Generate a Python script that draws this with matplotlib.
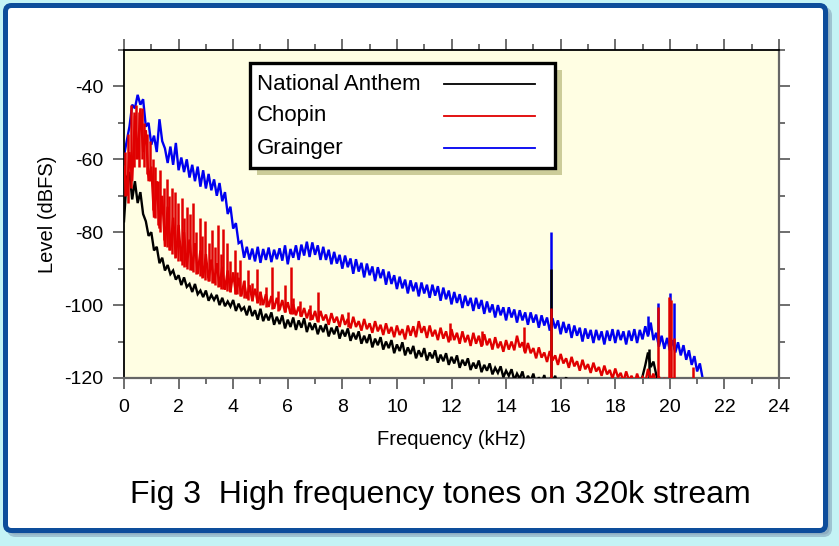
import numpy as np
import matplotlib
matplotlib.use("Agg")
import matplotlib.pyplot as plt
from matplotlib.patches import FancyBboxPatch, Rectangle
from matplotlib.ticker import MultipleLocator

plt.rcParams['font.family'] = ['Liberation Sans', 'DejaVu Sans']
plt.rcParams['axes.unicode_minus'] = False

# spectrum bins are 0.1 kHz apart, starting at 0 kHz
bin_khz = 0.1

anthem_db = [
    -77, -65, -63.5, -71, -66, -72, -69, -75, -77, -81,
    -80, -85, -84, -88.5, -87, -90.5, -89, -91.5, -90.5, -93,
    -91.8, -94.5, -92.4, -95, -94.2, -96.4, -94.2, -97, -96, -97.8,
    -96, -98.8, -97.2, -98.6, -97.2, -100, -98, -100.3, -99, -100.4,
    -98.6, -101.6, -99.6, -101.4, -100.6, -102.8, -100.2, -103, -101.4, -104,
    -101, -104.4, -102.4, -104.2, -102, -105.4, -103.2, -105.2, -102.8, -106.4,
    -104, -106, -103.4, -106.8, -104.2, -106.2, -103.6, -107.4, -104.8, -106.8,
    -105, -108, -105.6, -107.4, -105.2, -108.6, -106.2, -108, -105.8, -109.2,
    -106.8, -108.6, -106.4, -109.8, -107.6, -109.4, -107.2, -110.6, -108.4, -110.4,
    -108, -111.6, -109.2, -111, -108.8, -112.2, -110, -111.8, -109.6, -113.2,
    -110.8, -112.6, -110.2, -113.8, -111.6, -113.4, -111.2, -114.6, -112.4, -114.2,
    -111.8, -115.2, -113, -114.6, -112.4, -115.8, -113.6, -115.4, -113.2, -116.4,
    -114.2, -116, -113.8, -117.2, -115, -116.6, -114.6, -117.8, -115.8, -117.4,
    -115.2, -118.4, -116.4, -118, -116, -119, -117.2, -118.6, -116.8, -119.8,
    -118, -119.4, -117.6, -120.6, -118.8, -120.2, -118.2, -121.4, -119.4, -120.8,
    -118.8, -122, -119.8, -121.4, -119.2, -122.4, -120.4, -121, -119.4, -122.6,
    -120.4, -122, -119.8, -123, -120.8, -122.4, -120.2, -123.4, -121.2, -122.6,
    -120.6, -123.6, -121.6, -122.8, -120.4, -123.8, -121.8, -123, -120.8, -123.8,
    -121.8, -123.2, -121.2, -124, -120.6, -123.8, -121.2, -123.6, -120.4, -122,
    -119.5, -116.5, -113, -117, -115.5, -119, -122,
]

chopin_db = [
    -62, -70, -58, -66, -48, -60, -46, -58, -52, -66,
    -62, -76, -66, -79, -70, -84, -73, -85, -76, -87,
    -78, -88, -80, -89.5, -82, -90.5, -83, -91.5, -85, -92.5,
    -86, -93.5, -87.5, -94, -88.5, -95, -89.5, -95.8, -90.5, -96.4,
    -91, -97, -92.5, -97.6, -93.5, -98.2, -94.5, -98.8, -95.5, -99.4,
    -96.5, -100, -97, -100.5, -97.5, -101, -98, -101.4, -98.6, -102,
    -99.2, -102.4, -99.8, -102.8, -100.4, -103.2, -100.8, -103.6, -101.2, -104,
    -101.6, -104.6, -101.6, -104.2, -102.6, -105.4, -102.2, -104.8, -103.2, -106,
    -102.6, -105.4, -103.8, -106.4, -103.2, -106, -104.4, -107, -103.8, -106.6,
    -105, -107.6, -104.4, -107.2, -105.4, -108.2, -105, -107.8, -106, -108.8,
    -105.6, -108.2, -106.6, -109.4, -105.6, -108.4, -105.8, -108.8, -104.4, -107.6,
    -105.8, -109, -105.6, -108.6, -106.8, -109.6, -106.2, -109.2, -107.2, -110.2,
    -106.6, -109.6, -107.6, -110.6, -107.2, -110.2, -108.2, -111.2, -107.6, -110.6,
    -108.4, -111.4, -108, -111, -109.2, -112.2, -108.8, -111.8, -110, -112.8,
    -109.6, -112.2, -110, -112.4, -108.4, -111.6, -110.2, -113.2, -110.4, -113.2,
    -111.8, -114.6, -111.6, -114.4, -113, -115.6, -112.6, -115.2, -113.8, -116.4,
    -113.4, -116, -114.6, -117.2, -114.2, -116.8, -115.4, -118, -115, -117.6,
    -116.2, -118.6, -115.8, -118.2, -117, -119.4, -116.6, -119, -117.8, -120.2,
    -117.4, -119.8, -118.6, -121, -118.2, -120.6, -119.4, -121.8, -118.8, -121.2,
    -119.8, -121.4, -117.5, -120.5, -118.8, -121.8, -119.6, -122, -120, -122.2,
    -120.2, -122.4, -120.4, -122.6, -121, -122.8, -121.2, -123, -120.6, -122,
]

grainger_db = [
    -59, -55, -51, -45, -46, -42.3, -45, -43.5, -51, -50,
    -56, -53.5, -58, -49, -55, -57, -61, -56.5, -61.5, -55.5,
    -63, -59.5, -63.5, -60, -65, -61.5, -66, -62, -67.5, -63,
    -68, -64, -68.5, -65.5, -70, -66.5, -71.5, -69, -75, -73,
    -79, -77.5, -83, -82.5, -87, -84, -87.5, -84.5, -88, -84,
    -88.4, -84.6, -87.6, -84.2, -88.2, -84.8, -87.4, -84.4, -87.8, -83.6,
    -88.8, -84.6, -87, -83.6, -87.6, -83.4, -86.4, -82.6, -86.8, -82.8,
    -86.2, -83.6, -87.6, -84, -87.6, -84.8, -88.8, -85.4, -88.6, -86.2,
    -90, -86.4, -89.6, -87.2, -91.4, -87.4, -90.8, -88.4, -92.4, -88.6,
    -91.8, -89.4, -93.4, -89.6, -92.6, -90.2, -94.4, -90.8, -94.2, -91.8,
    -95.6, -92.2, -95.4, -93, -96.8, -93.2, -96.2, -93.8, -97.6, -93.8,
    -96.8, -94.4, -98, -94.4, -97.4, -94.8, -98.8, -95.2, -98.4, -96,
    -99.8, -96.4, -99.4, -97, -100.8, -97.4, -100.2, -98, -101.6, -98,
    -101, -98.6, -102.4, -99, -102, -99.8, -103.4, -100, -102.8, -100.6,
    -104.2, -100.6, -103.4, -101.2, -104.8, -101.4, -104.2, -102, -105.4, -102,
    -104.8, -102.6, -106.2, -102.8, -105.6, -103.4, -107, -103.6, -106.4, -104.2,
    -108, -104.6, -107.6, -105.2, -109, -105.6, -108.4, -106.2, -110, -106.4,
    -109.2, -106.8, -110.4, -106.8, -109.6, -107.2, -110.8, -107, -109.8, -106.6,
    -110.4, -106.8, -109.6, -107.2, -110.8, -107, -109.8, -106.6, -110.4, -106.8,
    -109.4, -105.8, -108.6, -104.8, -109.6, -107.6, -111.4, -108.4, -112, -109,
    -112.4, -109.6, -113, -110.2, -113.8, -111, -115, -112.4, -116.4, -114,
    -118.2, -116, -120, -121,
]

# narrow tones / harmonics: frequency (kHz), peak and foot level (dBFS)
anthem_tone_khz = [15.65, 19.22]
anthem_tone_top = [-90, -112]
anthem_tone_foot = [-120, -120]

chopin_tone_khz = [0.05, 0.15, 0.25, 0.35, 0.45, 0.55, 0.65, 0.75, 0.85,
                   0.95, 1.05, 1.14, 1.23, 1.32, 1.45, 1.57, 1.66, 1.75, 1.87,
                   1.97, 2.12, 2.2, 2.3, 2.42, 2.53, 2.65, 2.78, 2.87, 2.97,
                   3.1, 3.22, 3.33, 3.45, 3.55, 3.63, 3.77, 3.9, 4.07, 4.15,
                   4.25, 4.4, 4.55, 4.7, 4.87, 5.0, 5.2, 5.42, 5.65, 5.9,
                   6.12, 6.2, 6.45, 6.8, 7.1, 8.2, 11.95, 13.1, 14.65, 15.65,
                   19.55, 19.98, 20.03, 20.15, 20.85]
chopin_tone_top = [-58, -53, -45, -47, -45, -47, -46, -50, -53,
                   -55, -60, -62, -66, -63, -68, -65.5, -70, -68, -69,
                   -72, -70.5, -76, -73, -75, -72, -80, -76, -81, -77,
                   -83, -79.5, -84, -78, -86, -79, -83, -88, -85, -91,
                   -87.5, -93, -90.5, -94, -90, -96, -95, -89.5, -96, -94.5,
                   -89.5, -98, -99, -100, -96.5, -102, -105, -107, -106, -100.8,
                   -100.4, -97.7, -98.5, -109, -117]
chopin_tone_foot = [-70, -72, -68, -62, -60, -62, -60, -62, -64,
                    -66, -74, -76, -78, -80, -82, -84, -85, -86, -87,
                    -88, -89, -89.5, -90, -90.5, -91, -91.5, -92, -92.5, -93,
                    -93.5, -94, -94.5, -95, -95.5, -95.5, -96, -96.5, -97, -97,
                    -97.5, -98, -98.5, -99, -99.5, -100, -100.5, -101, -101.5, -102,
                    -102.5, -102.5, -103, -104, -104.5, -106, -109.5, -111, -112.5, -120,
                    -121, -121, -121, -121, -121]

grainger_tone_khz = [15.65, 19.2, 19.55, 20.0, 20.15]
grainger_tone_top = [-80, -103, -99.4, -96.7, -99.4]
grainger_tone_foot = [-106, -108, -110, -111, -112]

series_names = ['National Anthem', 'Chopin', 'Grainger']
series_colors = ['#000000', '#e00000', '#0000f0']

fig = plt.figure(figsize=(8.39, 5.46), dpi=100, facecolor='#c4f3f5')

# rounded blue frame with shadow (inches)
shadow = FancyBboxPatch((0.095, 0.115), 8.20, 5.25,
                        boxstyle='round,pad=0,rounding_size=0.06',
                        transform=fig.dpi_scale_trans, fc='#7f9cb4',
                        ec='#7f9cb4', lw=3.6, alpha=0.55, zorder=0)
frame = FancyBboxPatch((0.055, 0.155), 8.20, 5.25,
                       boxstyle='round,pad=0,rounding_size=0.06',
                       transform=fig.dpi_scale_trans, fc='white',
                       ec='#0d4d9b', lw=3.6, zorder=1)
fig.patches.extend([shadow, frame])

ax = fig.add_axes([124 / 839, 168 / 546, 655 / 839, 328 / 546])
ax.set_facecolor('#fffee3')
ax.set_zorder(2)

levels = [anthem_db, chopin_db, grainger_db]
tones = [(anthem_tone_khz, anthem_tone_top, anthem_tone_foot),
         (chopin_tone_khz, chopin_tone_top, chopin_tone_foot),
         (grainger_tone_khz, grainger_tone_top, grainger_tone_foot)]
# blue underneath, then black, red on top
order_z = [3, 4, 2]
for db, (tf, tt, tb), col, z in zip(levels, tones, series_colors, order_z):
    freq = np.arange(len(db)) * bin_khz
    ax.plot(freq, db, color=col, lw=1.7, zorder=z, solid_joinstyle='miter')
    ax.vlines(tf, tb, tt, color=col, lw=1.8, zorder=z)

ax.set_xlim(0, 24)
ax.set_ylim(-120, -30)
ax.set_xticks(range(0, 25, 2))
ax.xaxis.set_minor_locator(MultipleLocator(1))
ax.set_yticks([-120, -100, -80, -60, -40])
ax.yaxis.set_minor_locator(MultipleLocator(10))
ax.tick_params(which='both', direction='out', top=True, right=True,
               color='#555555', width=1.2, labelsize=14, pad=7)
ax.tick_params(which='major', length=7.9)
ax.tick_params(which='minor', length=4.3)

for side in ['left', 'top']:
    ax.spines[side].set_color('black')
    ax.spines[side].set_linewidth(1.3)
for side in ['bottom', 'right']:
    ax.spines[side].set_color('#666666')
    ax.spines[side].set_linewidth(1.6)

ax.set_xlabel('Frequency (kHz)', fontsize=14.5)
ax.xaxis.set_label_coords(0.5, -0.158)
ax.set_ylabel('Level (dBFS)', fontsize=14.5)
ax.yaxis.set_label_coords(-0.102, 0.5)

# legend drawn by hand: text left, sample line right
lx0, ly0, lw_, lh_ = 0.1924, 0.640, 0.4656, 0.320
ax.add_patch(Rectangle((lx0 + 0.0107, ly0 - 0.0213), lw_, lh_, transform=ax.transAxes,
                       fc='#cccc99', ec='none', zorder=9))
ax.add_patch(Rectangle((lx0, ly0), lw_, lh_, transform=ax.transAxes,
                       fc='white', ec='black', lw=2.4, zorder=10))
row_y = [0.8963, 0.7988, 0.7012]
for name, col, yy in zip(series_names, series_colors, row_y):
    ax.text(0.203, yy, name, transform=ax.transAxes, fontsize=16,
            va='center', ha='left', zorder=11)
    ax.plot([0.4885, 0.6275], [yy, yy], transform=ax.transAxes, color=col,
            lw=1.3, zorder=11)

fig.text(440 / 839, 43 / 546, 'Fig 3  High frequency tones on 320k stream',
         fontsize=23, ha='center', va='baseline')

fig.savefig('out.png', dpi=100, facecolor=fig.get_facecolor())
